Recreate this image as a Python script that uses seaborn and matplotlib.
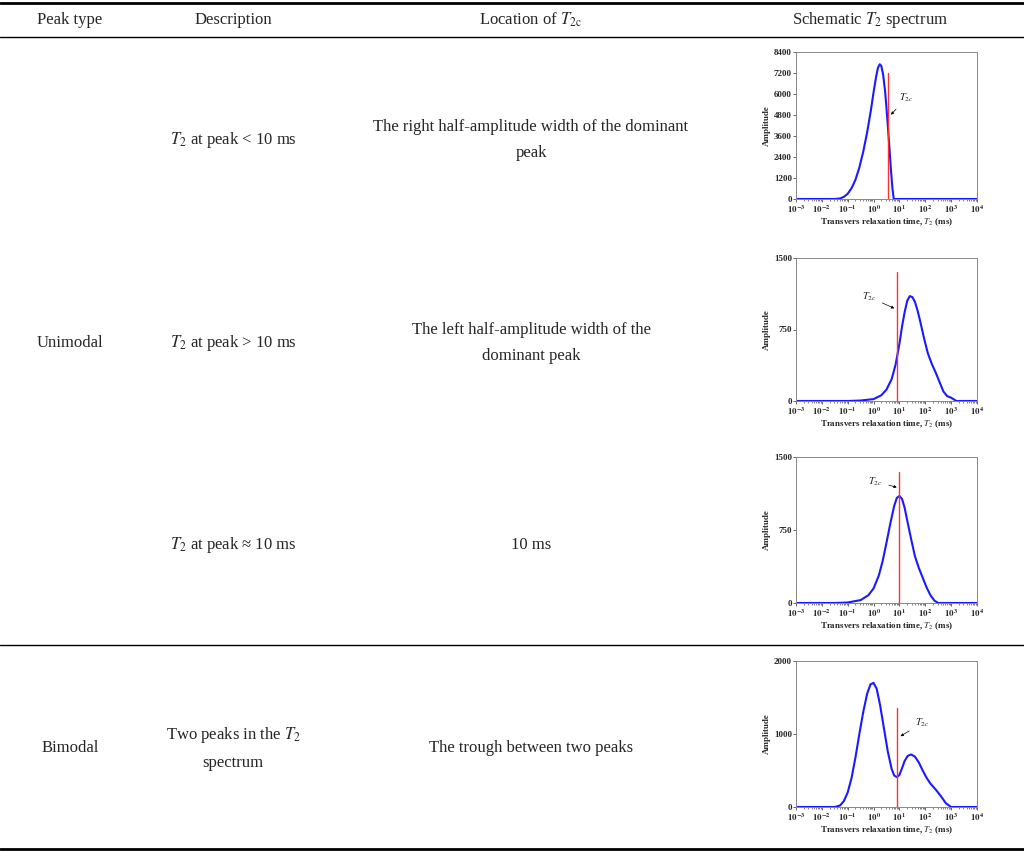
import matplotlib
matplotlib.use("Agg")
import matplotlib.pyplot as plt
import seaborn as sns
import numpy as np
import pandas as pd
from matplotlib.ticker import LogLocator, NullFormatter

sns.set_style("ticks")
plt.rcParams['font.family'] = ['Liberation Serif', 'DejaVu Serif']
plt.rcParams['mathtext.fontset'] = 'stix'

# ---- data (log10 of T2 in ms, amplitude) ----
c1_logt = [-3, -1.5, -1.3, -1.15, -1.0, -0.85, -0.7, -0.55, -0.4, -0.25, -0.1, 0.0, 0.1, 0.17, 0.24, 0.3, 0.37, 0.45, 0.52, 0.6, 0.67, 0.73, 0.78, 1, 4]
c1_amp = [0, 0, 30, 120, 300, 620, 1100, 1800, 2700, 3800, 5100, 6100, 7000, 7500, 7700, 7600, 7100, 6100, 4800, 3200, 1700, 600, 0, 0, 0]
c2_logt = [-3, -1, -0.5, 0, 0.3, 0.5, 0.7, 0.85, 1.0, 1.1, 1.2, 1.3, 1.4, 1.5, 1.6, 1.7, 1.8, 1.95, 2.1, 2.25, 2.4, 2.55, 2.7, 2.85, 3.0, 3.2, 4]
c2_amp = [0, 0, 5, 20, 60, 120, 230, 380, 600, 780, 930, 1050, 1100, 1090, 1040, 950, 840, 660, 500, 390, 300, 200, 100, 50, 35, 0, 0]
c3_logt = [-3, -1.5, -1, -0.5, -0.2, 0, 0.2, 0.35, 0.5, 0.65, 0.8, 0.9, 1.0, 1.1, 1.2, 1.3, 1.45, 1.6, 1.75, 1.9, 2.05, 2.2, 2.35, 2.5, 4]
c3_amp = [0, 0, 5, 30, 80, 150, 280, 430, 620, 820, 1000, 1080, 1100, 1070, 980, 850, 660, 480, 360, 260, 160, 80, 25, 0, 0]
c4_logt = [-3, -1.5, -1.3, -1.15, -1, -0.85, -0.7, -0.55, -0.4, -0.25, -0.12, 0, 0.12, 0.25, 0.4, 0.55, 0.7, 0.8, 0.9, 1.0, 1.1, 1.2, 1.32, 1.45, 1.6, 1.75, 1.9, 2.05, 2.2, 2.4, 2.6, 2.8, 3.0, 4]
c4_amp = [0, 0, 20, 80, 200, 400, 680, 1000, 1300, 1550, 1680, 1700, 1620, 1400, 1080, 760, 520, 430, 410, 440, 530, 630, 700, 720, 690, 610, 500, 400, 320, 240, 150, 50, 0, 0]

t2c_log = [0.55, 0.9, 1.0, 0.9]
t2c_top = [7200, 1350, 1350, 1350]
ymax = [8400, 1500, 1500, 2000]
yticks = [[0, 1200, 2400, 3600, 4800, 6000, 7200, 8400], [0, 750, 1500], [0, 750, 1500], [0, 1000, 2000]]
label_pos = [(1.0, 5800), (-0.45, 1090), (-0.2, 1250), (1.6, 1150)]
arrow_tip = [(0.6, 4700), (0.9, 960), (1.0, 1180), (0.95, 950)]
curves = [(c1_logt, c1_amp), (c2_logt, c2_amp), (c3_logt, c3_amp), (c4_logt, c4_amp)]

header = ["Peak type", "Description", "Location of $T_{2\\mathrm{c}}$", "Schematic $T_2$ spectrum"]
descriptions = ["$T_2$ at peak < 10 ms", "$T_2$ at peak > 10 ms", "$T_2$ at peak ≈ 10 ms", "Two peaks in the $T_2$\nspectrum"]
locations = ["The right half-amplitude width of the dominant\npeak",
             "The left half-amplitude width of the\ndominant peak", "10 ms", "The trough between two peaks"]
peak_types = ["Unimodal", "Bimodal"]

W, H = 1024, 857
fig = plt.figure(figsize=(W / 100, H / 100), dpi=100)

def fy(py):
    return 1 - py / H

for py, lw in [(3, 2.0), (37, 1.0), (645, 1.0), (849, 2.0)]:
    fig.add_artist(plt.Line2D([0, 1], [fy(py), fy(py)], color='black', lw=lw, transform=fig.transFigure))

fs = 12
for x, t in zip([70, 233, 531, 870], header):
    fig.text(x / W, fy(20), t, ha='center', va='center', fontsize=fs)
row_y = [140, 343, 545, 748]
for y, d, l in zip(row_y, descriptions, locations):
    fig.text(233 / W, fy(y), d, ha='center', va='center', fontsize=fs, linespacing=1.9)
    fig.text(531 / W, fy(y), l, ha='center', va='center', fontsize=fs, linespacing=1.9)
fig.text(70 / W, fy(343), peak_types[0], ha='center', va='center', fontsize=fs)
fig.text(70 / W, fy(748), peak_types[1], ha='center', va='center', fontsize=fs)

tops = [52, 258, 457, 661]
bots = [199, 401, 603, 807]
L, R = 796, 977
for i in range(4):
    ax = fig.add_axes([L / W, fy(bots[i]), (R - L) / W, (bots[i] - tops[i]) / H])
    df = pd.DataFrame({'t': 10.0 ** np.array(curves[i][0]), 'a': curves[i][1]})
    sns.lineplot(data=df, x='t', y='a', ax=ax, color='#1a1aff', lw=1.5)
    ax.plot([10 ** t2c_log[i]] * 2, [0, t2c_top[i]], color='#ff3030', lw=1.0)
    ax.set_xscale('log')
    ax.set_xlim(1e-3, 1e4)
    ax.set_ylim(0, ymax[i])
    ax.set_yticks(yticks[i])
    ax.set_xticks([10.0 ** k for k in range(-3, 5)])
    ax.set_xticklabels(["$\\mathbf{10^{%d}}$" % k for k in range(-3, 5)])
    ax.xaxis.set_minor_locator(LogLocator(base=10, subs=np.arange(2, 10), numticks=20))
    ax.xaxis.set_minor_formatter(NullFormatter())
    ax.tick_params(labelsize=6.5, length=2, width=0.5, pad=1)
    ax.tick_params(which='minor', length=1.2, width=0.4)
    for lab in ax.get_yticklabels():
        lab.set_fontweight('bold')
    for s in ax.spines.values():
        s.set_color('#888888')
        s.set_linewidth(0.7)
    ax.set_xlabel("Transvers relaxation time, $\\boldsymbol{T_2}$ (ms)", fontsize=6.5, fontweight='bold', labelpad=1)
    ax.set_ylabel("Amplitude", fontsize=6.5, fontweight='bold', labelpad=2)
    lx, ly = label_pos[i]
    tx, ty = arrow_tip[i]
    ax.annotate("$\\boldsymbol{T_{2c}}$", xy=(10 ** tx, ty), xytext=(10 ** lx, ly), fontsize=7.5,
                ha='left', va='center',
                arrowprops=dict(arrowstyle='-|>', color='black', lw=0.5, mutation_scale=4))

fig.savefig("out.png", dpi=100)
